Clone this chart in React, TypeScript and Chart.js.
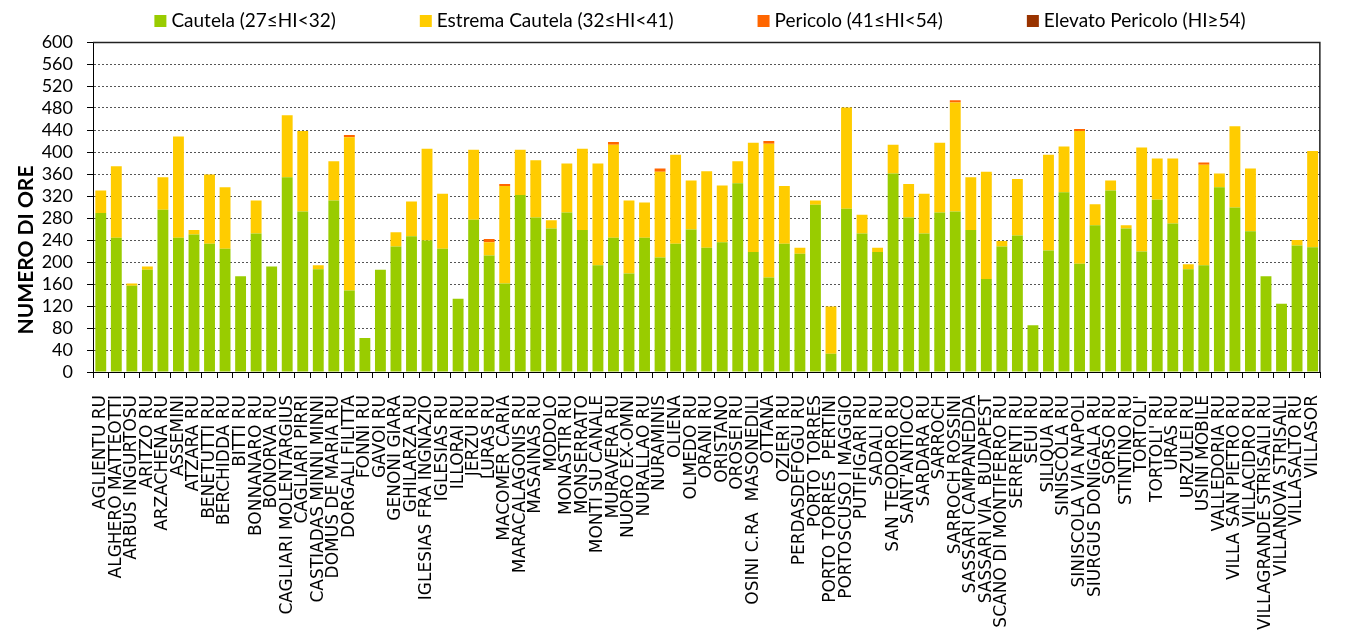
import React, { useEffect, useRef } from "react";
import { Chart, registerables } from "chart.js";

Chart.register(...registerables);

const categories = [
  "AGLIENTU RU", "ALGHERO MATTEOTTI", "ARBUS INGURTOSU", "ARITZO RU", "ARZACHENA RU", "ASSEMINI",
  "ATZARA RU", "BENETUTTI RU", "BERCHIDDA RU", "BITTI RU", "BONNANARO RU", "BONORVA RU",
  "CAGLIARI MOLENTARGIUS", "CAGLIARI PIRRI", "CASTIADAS MINNI MINNI", "DOMUS DE MARIA RU",
  "DORGALI FILITTA", "FONNI RU", "GAVOI RU", "GENONI GIARA", "GHILARZA RU", "IGLESIAS FRA INGNAZIO",
  "IGLESIAS RU", "ILLORAI RU", "JERZU RU", "LURAS RU", "MACOMER CARIA", "MARACALAGONIS RU",
  "MASAINAS RU", "MODOLO", "MONASTIR RU", "MONSERRATO", "MONTI SU CANALE", "MURAVERA RU",
  "NUORO EX-OMNI", "NURALLAO RU", "NURAMINIS", "OLIENA", "OLMEDO RU", "ORANI RU", "ORISTANO",
  "OROSEI RU", "OSINI C.RA  MASONEDILI", "OTTANA", "OZIERI RU", "PERDASDEFOGU RU", "PORTO TORRES",
  "PORTO TORRES  PERTINI", "PORTOSCUSO I MAGGIO", "PUTIFIGARI RU", "SADALI RU", "SAN TEODORO RU",
  "SANT'ANTIOCO", "SARDARA RU", "SARROCH", "SARROCH ROSSINI", "SASSARI CAMPANEDDA",
  "SASSARI VIA  BUDAPEST", "SCANO DI MONTIFERRO RU", "SERRENTI RU", "SEUI RU", "SILIQUA RU",
  "SINISCOLA RU", "SINISCOLA VIA NAPOLI", "SIURGUS DONIGALA RU", "SORSO RU", "STINTINO RU",
  "TORTOLI'", "TORTOLI' RU", "URAS RU", "URZULEI RU", "USINI MOBILE", "VALLEDORIA RU",
  "VILLA SAN PIETRO RU", "VILLACIDRO RU", "VILLAGRANDE STRISAILI RU", "VILLANOVA STRISAILI",
  "VILLASALTO RU", "VILLASOR",
];

const cautela = [
  289, 244, 157, 186, 295, 244, 250, 233, 224, 174, 252, 192,
  354, 292, 187, 312, 148, 62, 186, 228, 247, 239,
  224, 133, 277, 212, 161, 322, 281, 261, 290, 258, 194, 244,
  179, 244, 208, 233, 259, 226, 236, 343, 218, 172, 233, 215, 304,
  33, 297, 252, 218, 361, 281, 252, 290, 292, 258,
  169, 228, 248, 85, 221, 327, 197, 267, 330, 261,
  219, 313, 270, 187, 194, 336, 299, 256, 174, 124,
  230, 227,
];

const estremaCautela = [
  41, 130, 4, 6, 59, 184, 8, 126, 112, 0, 60, 0,
  113, 146, 7, 71, 279, 0, 0, 26, 63, 167,
  100, 0, 127, 24, 177, 82, 104, 15, 89, 148, 185, 169,
  133, 64, 156, 162, 89, 139, 103, 40, 199, 243, 105, 11, 8,
  86, 184, 34, 8, 52, 61, 72, 127, 198, 96,
  195, 10, 103, 0, 174, 83, 241, 38, 18, 6,
  189, 75, 118, 9, 183, 25, 148, 114, 0, 0,
  10, 175,
];

const pericolo = [
  0, 0, 0, 0, 0, 0, 0, 0, 0, 0, 0, 0,
  0, 0, 0, 0, 4, 0, 0, 0, 0, 0,
  0, 0, 0, 6, 4, 0, 0, 0, 0, 0, 0, 5,
  0, 0, 6, 0, 0, 0, 0, 0, 0, 5, 0, 0, 0,
  0, 0, 0, 0, 0, 0, 0, 0, 4, 0,
  0, 0, 0, 0, 0, 0, 4, 0, 0, 0,
  0, 0, 0, 0, 4, 0, 0, 0, 0, 0,
  0, 0,
];

const elevatoPericolo = categories.map(() => 0);

const seriesLabels = [
  "Cautela (27≤HI<32)",
  "Estrema Cautela (32≤HI<41)",
  "Pericolo (41≤HI<54)",
  "Elevato Pericolo (HI≥54)",
];
const seriesColors = ["#99CC00", "#FFCC00", "#FF6600", "#993300"];

const yMin = 0;
const yMax = 600;
const yStep = 40;
const yTitle = "NUMERO DI ORE";

const legendPlugin = {
  id: "customLegend",
  afterDraw(chart: any) {
    const ctx = chart.ctx;
    ctx.save();
    ctx.font = "19px Lato";
    const box = 12;
    const gapText = 5;
    const gap = 84;
    const items = chart.data.datasets.map((ds: any) => ({
      label: ds.label,
      color: ds.backgroundColor,
      w: box + gapText + ctx.measureText(ds.label).width,
    }));
    const total = items.reduce((s: number, i: any) => s + i.w, 0) + gap * (items.length - 1);
    let x = 700 - total / 2;
    const y = 21;
    ctx.textBaseline = "middle";
    ctx.textAlign = "left";
    for (const it of items) {
      ctx.fillStyle = it.color;
      ctx.fillRect(x, y - box / 2, box, box);
      ctx.fillStyle = "#000";
      ctx.fillText(it.label, x + box + gapText, y);
      x += it.w + gap;
    }
    ctx.restore();
  },
};

const yTitlePlugin = {
  id: "yTitle",
  afterDraw(chart: any) {
    const ctx = chart.ctx;
    ctx.save();
    ctx.translate(26, 250);
    ctx.rotate(-Math.PI / 2);
    ctx.font = "bold 21px Lato";
    ctx.fillStyle = "#000";
    ctx.textAlign = "center";
    ctx.textBaseline = "middle";
    ctx.fillText(yTitle, 0, 0);
    ctx.restore();
  },
};

const framePlugin = {
  id: "frame",
  afterDatasetsDraw(chart: any) {
    const { ctx, chartArea } = chart;
    ctx.save();
    ctx.strokeStyle = "#222";
    ctx.lineWidth = 1.5;
    ctx.beginPath();
    ctx.moveTo(chartArea.left, chartArea.top + 0.5);
    ctx.lineTo(chartArea.right - 0.5, chartArea.top + 0.5);
    ctx.lineTo(chartArea.right - 0.5, chartArea.bottom);
    ctx.stroke();
    ctx.restore();
  },
};

export default function App() {
  const ref = useRef<HTMLCanvasElement | null>(null);

  useEffect(() => {
    if (!ref.current) return;
    const chart = new Chart(ref.current, {
      type: "bar",
      data: {
        labels: categories,
        datasets: [cautela, estremaCautela, pericolo, elevatoPericolo].map((d, i) => ({
          label: seriesLabels[i],
          data: d,
          backgroundColor: seriesColors[i],
          borderWidth: 0,
          categoryPercentage: 1,
          barPercentage: 0.7,
        })),
      },
      options: {
        responsive: false,
        animation: false,
        layout: { padding: { top: 42, left: 0, right: 1, bottom: 0 } },
        plugins: {
          legend: { display: false },
          tooltip: { enabled: false },
        },
        scales: {
          x: {
            stacked: true,
            afterFit: (scale: any) => {
              scale.height = 264;
            },
            grid: {
              display: true,
              drawOnChartArea: false,
              drawTicks: true,
              tickLength: 6,
              tickColor: "#000",
              offset: true,
            },
            border: { display: true, color: "#000", width: 1 },
            ticks: {
              autoSkip: false,
              maxRotation: 90,
              minRotation: 90,
              padding: 17,
              color: "#000",
              font: { family: "'DejaVu Sans'", size: 17 },
            },
          },
          y: {
            stacked: true,
            min: yMin,
            max: yMax,
            afterFit: (scale: any) => {
              scale.width = 93;
            },
            grid: {
              color: "#555",
              lineWidth: 1,
              tickLength: 6,
              tickColor: "#000",
              tickBorderDash: [],
            },
            border: { display: true, color: "#000", width: 1, dash: [2, 2] },
            ticks: {
              autoSkip: false,
              stepSize: yStep,
              padding: 14,
              color: "#000",
              font: { family: "Lato", size: 18 },
            },
          },
        },
      },
      plugins: [legendPlugin, yTitlePlugin, framePlugin],
    });
    return () => chart.destroy();
  }, []);

  return (
    <div style={{ position: "absolute", left: 0, top: 0, width: 1350, height: 636, background: "#fff" }}>
      <canvas ref={ref} width={1350} height={636} style={{ display: "block" }} />
    </div>
  );
}
